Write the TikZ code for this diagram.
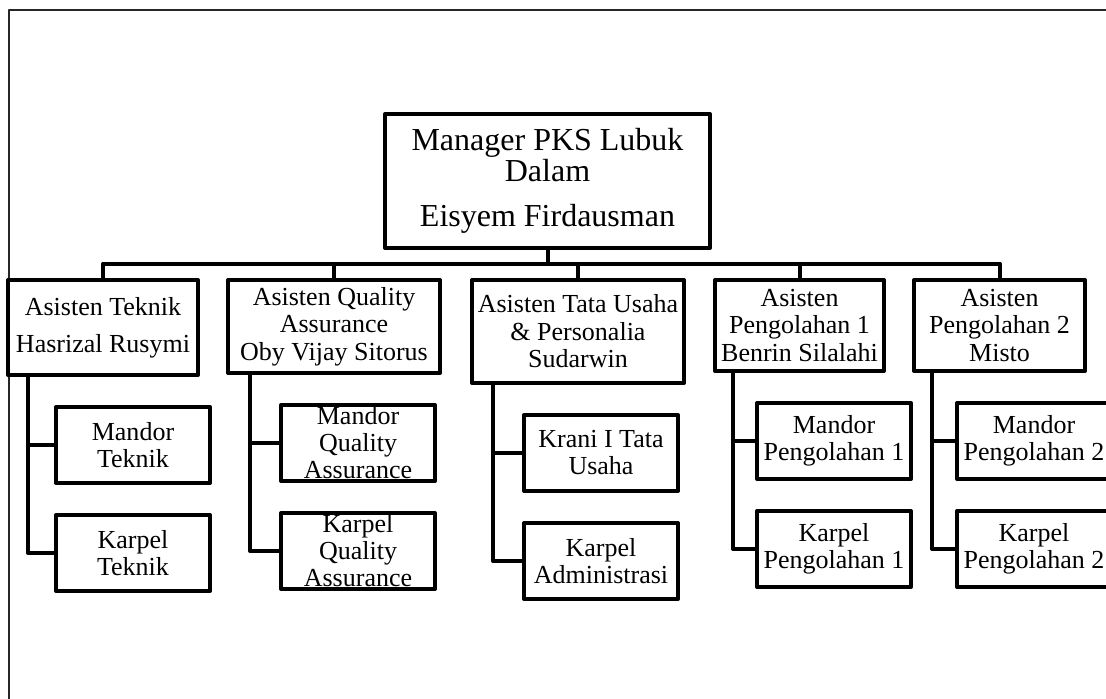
\documentclass[tikz,border=0pt]{standalone}
\usepackage{fontspec}
\setmainfont{Liberation Serif}
\usetikzlibrary{positioning}
\newcommand{\subtext}[1]{\parbox[c][34pt][c]{73pt}{\centering #1}}

\begin{document}
\begin{tikzpicture}[x=0.5pt, y=-0.5pt, line join=round,
    box/.style={draw, line width=2pt, align=center, inner sep=2pt, outer sep=0pt, anchor=north west,
      font=\fontsize{13}{13.75}\selectfont},
    sub/.style={draw, line width=2pt, inner sep=2pt, outer sep=0pt, font=\fontsize{13}{13.5}\selectfont},
    link/.style={line width=2pt}]
  \useasboundingbox (0,0) rectangle (1106,698);
  \clip (0,0) rectangle (1106,698);
  \draw [black!85, line width=0.7pt] (9,10) rectangle (1140,730);

  \node [box, minimum width=162.5pt, minimum height=67pt, font=\fontsize{16}{15.5}\selectfont] (mgr) at (385,114) {
    Manager PKS Lubuk\\ Dalam\\[7pt] Eisyem Firdausman
  } ;

  \node [box, minimum width=95pt, minimum height=47.5pt] (atek) at (8,280) {
    Asisten Teknik\\[4.75pt] Hasrizal Rusymi
  } ;
    \node [sub, below=16pt of atek.south west, anchor=north west, xshift=24pt] (mtek) {\subtext{Mandor\\ Teknik}} ;
    \node [sub, below=16pt of mtek] (ktek) {\subtext{Karpel\\ Teknik}} ;
  \node [box, minimum width=106pt, minimum height=46.5pt] (aqa) at (228,280) {
    Asisten Quality\\ Assurance\\ Oby Vijay Sitorus
  } ;
    \node [sub, below=16pt of aqa.south west, anchor=north west, xshift=26.5pt] (mqa) {\subtext{Mandor\\ Quality\\ Assurance}} ;
    \node [sub, below=16pt of mqa] (kqa) {\subtext{Karpel\\ Quality\\ Assurance}} ;
  \node [box, minimum width=106pt, minimum height=51.5pt] (atu) at (472,280) {
    Asisten Tata Usaha\\ \& Personalia\\ Sudarwin
  } ;
    \node [sub, below=16pt of atu.south west, anchor=north west, xshift=26pt] (ktu) {\subtext{Krani I Tata\\ Usaha}} ;
    \node [sub, below=16pt of ktu] (kadm) {\subtext{Karpel\\ Administrasi}} ;
  \node [box, minimum width=84.5pt, minimum height=45.5pt] (apg1) at (715,280) {
    Asisten\\ Pengolahan 1\\ Benrin Silalahi
  } ;
    \node [sub, below=16pt of apg1.south west, anchor=north west, xshift=21pt] (mpg1) {\subtext{Mandor\\ Pengolahan 1}} ;
    \node [sub, below=16pt of mpg1] (kpg1) {\subtext{Karpel\\ Pengolahan 1}} ;
  \node [box, minimum width=85.5pt, minimum height=45.5pt] (apg2) at (914,280) {
    Asisten\\ Pengolahan 2\\ Misto
  } ;
    \node [sub, below=16pt of apg2.south west, anchor=north west, xshift=21.5pt] (mpg2) {\subtext{Mandor\\ Pengolahan 2}} ;
    \node [sub, below=16pt of mpg2] (kpg2) {\subtext{Karpel\\ Pengolahan 2}} ;

  \draw [link] (mgr.south) -- ++(0,15.5) coordinate (bus) ;
  \draw [link] (atek.north) |- (bus) ;
  \draw [link] (aqa.north) |- (bus) ;
  \draw [link] (atu.north) |- (bus) ;
  \draw [link] (apg1.north) |- (bus) ;
  \draw [link] (apg2.north) |- (bus) ;

    \draw [link] ([xshift=10pt]atek.south west) |- (mtek.west) ;
    \draw [link] ([xshift=10pt]atek.south west) |- (ktek.west) ;
    \draw [link] ([xshift=11pt]aqa.south west) |- (mqa.west) ;
    \draw [link] ([xshift=11pt]aqa.south west) |- (kqa.west) ;
    \draw [link] ([xshift=10.5pt]atu.south west) |- (ktu.west) ;
    \draw [link] ([xshift=10.5pt]atu.south west) |- (kadm.west) ;
    \draw [link] ([xshift=9pt]apg1.south west) |- (mpg1.west) ;
    \draw [link] ([xshift=9pt]apg1.south west) |- (kpg1.west) ;
    \draw [link] ([xshift=9pt]apg2.south west) |- (mpg2.west) ;
    \draw [link] ([xshift=9pt]apg2.south west) |- (kpg2.west) ;
\end{tikzpicture}
\end{document}
